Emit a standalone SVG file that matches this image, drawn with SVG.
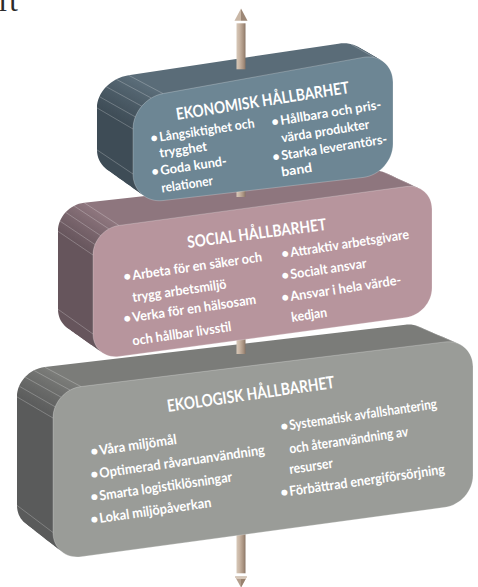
<svg xmlns="http://www.w3.org/2000/svg" xmlns:xlink="http://www.w3.org/1999/xlink" width="478" height="587" viewBox="0 0 478 587">
<style>
text{font-family:Lato,"Open Sans","DejaVu Sans",sans-serif;fill:#fff;font-weight:700}
.ti{font-size:16.5px}
.bl{font-size:13px}
.bb{font-size:13.8px}
.hl{stroke:#fff;stroke-opacity:.4;stroke-width:.6;fill:none}
.rod{fill:url(#rodg)}
.fe{stroke:#fff;stroke-opacity:.3;stroke-width:.8}
</style>
<defs>
<path id="pt" d="M163,93.58 L363,57.42 C379.56,54.43 393,65.44 393,82 L393,144 C393,160.56 379.56,175.55 363,177.46 L163,200.54 C146.44,202.45 133,190.56 133,174 L133,129 C133,112.44 146.44,96.57 163,93.58Z"/>
<path id="pm" d="M119,225.47 L406,186.53 C420.35,184.58 432,194.65 432,209 L432,288 C432,302.35 420.35,315.58 406,317.53 L119,356.47 C104.65,358.42 93,348.35 93,334 L93,255 C93,240.65 104.65,227.42 119,225.47Z"/>
<path id="pb" d="M81,386.57 L445,341.93 C460.46,340.04 473,351.04 473,366.5 L473,475.5 C473,490.96 460.46,505.2 445,507.3 L81,556.7 C65.54,558.8 53,547.96 53,532.5 L53,418 C53,402.54 65.54,388.46 81,386.57Z"/>
<linearGradient id="gt" gradientUnits="userSpaceOnUse" x1="126.2" y1="121.8" x2="157.4" y2="90.6"><stop offset="0" stop-color="#3e4c56"/><stop offset="1" stop-color="#5a6c78"/></linearGradient>
<linearGradient id="gm" gradientUnits="userSpaceOnUse" x1="86.5" y1="249.7" x2="114.7" y2="221.5"><stop offset="0" stop-color="#66555c"/><stop offset="1" stop-color="#8e767e"/></linearGradient>
<linearGradient id="gb" gradientUnits="userSpaceOnUse" x1="46.35" y1="412.05" x2="76.05" y2="382.35"><stop offset="0" stop-color="#5a5b5b"/><stop offset="1" stop-color="#7b7c79"/></linearGradient>
<linearGradient id="rodg" x1="0" y1="0" x2="1" y2="0"><stop offset="0" stop-color="#d8c9b9"/><stop offset=".35" stop-color="#c8b4a2"/><stop offset=".75" stop-color="#a89280"/><stop offset="1" stop-color="#8a7565"/></linearGradient>
</defs>

<text x="-1" y="11" style="font-family:'Liberation Serif',serif;font-weight:400;font-size:31px;fill:#2b2b2b">rt</text>

<g id="axis-bottom" class="connector">
<rect class="rod" x="236.5" y="500" width="9" height="73.3"/>
<polygon points="235,576.5 247,576.5 241,587.5" fill="#b39e8d"/>
<polygon points="235,576.5 247,576.5 245.6,579 236.4,579" fill="#d6c7b8"/>
<polygon points="241,579 245.6,579 241,587.5" fill="#98826f"/>
</g>

<g id="node-ekologisk">
<g fill="url(#gb)">
<use xlink:href="#pb" transform="matrix(0.9905,0,0,0.948,-35.5,0.6)"/>
<use xlink:href="#pb" transform="matrix(0.99145,0,0,0.9532,-31.95,0.54)"/>
<use xlink:href="#pb" transform="matrix(0.9924,0,0,0.9584,-28.4,0.48)"/>
<use xlink:href="#pb" transform="matrix(0.99335,0,0,0.9636,-24.85,0.42)"/>
<use xlink:href="#pb" transform="matrix(0.9943,0,0,0.9688,-21.3,0.36)"/>
<use xlink:href="#pb" transform="matrix(0.99525,0,0,0.974,-17.75,0.3)"/>
<use xlink:href="#pb" transform="matrix(0.9962,0,0,0.9792,-14.2,0.24)"/>
<use xlink:href="#pb" transform="matrix(0.99715,0,0,0.9844,-10.65,0.18)"/>
<use xlink:href="#pb" transform="matrix(0.9981,0,0,0.9896,-7.1,0.12)"/>
<use xlink:href="#pb" transform="matrix(0.99905,0,0,0.9948,-3.55,0.06)"/>
</g>
<path class="hl" d="M17,396.9L53,418M19.2,386.2L55.2,406.8M25.1,377.1L61.2,397.2M33.9,370.4L70.1,390.1M44.7,367.1L81,386.57M17,505.4L53,532.5M416.1,325.6L455.9,342.8"/>
<g class="connector"><rect class="rod" x="236.5" y="300" width="9" height="54"/></g>
<use xlink:href="#pb" fill="#9a9c98" class="fe"/>
<text class="ti" x="168" y="412" textLength="169" lengthAdjust="spacingAndGlyphs" transform="rotate(-8.2 168 412)" style="font-size:17px">EKOLOGISK HÅLLBARHET</text>
<g class="bb">
<text x="91" y="455" transform="rotate(-8.2 100 455)">•</text>
<text x="100" y="455" textLength="78" lengthAdjust="spacingAndGlyphs" transform="rotate(-8.2 100 455)">Våra miljömål</text>
<text x="91" y="478" transform="rotate(-8.2 100 478)">•</text>
<text x="100" y="478" textLength="167" lengthAdjust="spacingAndGlyphs" transform="rotate(-8.2 100 478)">Optimerad råvaruanvändning</text>
<text x="91" y="500.5" transform="rotate(-8.2 100 500.5)">•</text>
<text x="100" y="500.5" textLength="134" lengthAdjust="spacingAndGlyphs" transform="rotate(-8.2 100 500.5)">Smarta logistiklösningar</text>
<text x="91" y="523" transform="rotate(-8.2 100 523)">•</text>
<text x="100" y="523" textLength="113" lengthAdjust="spacingAndGlyphs" transform="rotate(-8.2 100 523)">Lokal miljöpåverkan</text>
<text x="281" y="430" transform="rotate(-8.4 290 430)">•</text>
<text x="290" y="430" textLength="149" lengthAdjust="spacingAndGlyphs" transform="rotate(-8.4 290 430)">Systematisk avfallshantering</text>
<text x="290" y="453.5" textLength="120" lengthAdjust="spacingAndGlyphs" transform="rotate(-8.4 290 453.5)">och återanvändning av</text>
<text x="290" y="474" textLength="44" lengthAdjust="spacingAndGlyphs" transform="rotate(-8.4 290 474)">resurser</text>
<text x="281" y="496" transform="rotate(-8.2 290 496)">•</text>
<text x="290" y="496" textLength="157" lengthAdjust="spacingAndGlyphs" transform="rotate(-8.2 290 496)">Förbättrad energiförsörjning</text>
</g>
</g>

<g id="node-social">
<g fill="url(#gm)">
<use xlink:href="#pm" transform="matrix(1.0059,0.02316,0,0.988,-35.55,-22.8)"/>
<use xlink:href="#pm" transform="matrix(1.00531,0.020844,0,0.9892,-31.995,-20.52)"/>
<use xlink:href="#pm" transform="matrix(1.00472,0.018528,0,0.9904,-28.44,-18.24)"/>
<use xlink:href="#pm" transform="matrix(1.00413,0.016212,0,0.9916,-24.885,-15.96)"/>
<use xlink:href="#pm" transform="matrix(1.00354,0.013896,0,0.9928,-21.33,-13.68)"/>
<use xlink:href="#pm" transform="matrix(1.00295,0.01158,0,0.994,-17.775,-11.4)"/>
<use xlink:href="#pm" transform="matrix(1.00236,0.009264,0,0.9952,-14.22,-9.12)"/>
<use xlink:href="#pm" transform="matrix(1.00177,0.006948,0,0.9964,-10.665,-6.84)"/>
<use xlink:href="#pm" transform="matrix(1.00118,0.004632,0,0.9976,-7.11,-4.56)"/>
<use xlink:href="#pm" transform="matrix(1.00059,0.002316,0,0.9988,-3.555,-2.28)"/>
</g>
<path class="hl" d="M58,231.3L93,255M60.06,221.1L95.05,244.6M65.64,212.3L100.6,235.6M73.99,205.9L108.9,228.9M84.15,202.7L119,225.47M58,309.3L93,334M383,171.8L416.1,187.2"/>
<g class="connector"><rect class="rod" x="236.5" y="150" width="9" height="47"/></g>
<use xlink:href="#pm" fill="#b7959d" class="fe"/>
<text class="ti" x="188" y="248" textLength="140" lengthAdjust="spacingAndGlyphs" transform="rotate(-7.4 188 248)">SOCIAL HÅLLBARHET</text>
<g class="bl" style="font-size:13.4px">
<text x="124" y="280" transform="rotate(-8.2 133 280)">•</text>
<text x="133" y="280" textLength="131" lengthAdjust="spacingAndGlyphs" transform="rotate(-8.2 133 280)">Arbeta för en säker och</text>
<text x="133" y="302" textLength="95" lengthAdjust="spacingAndGlyphs" transform="rotate(-8.2 133 302)">trygg arbetsmiljö</text>
<text x="124" y="322" transform="rotate(-8.4 133 322)">•</text>
<text x="133" y="322" textLength="125" lengthAdjust="spacingAndGlyphs" transform="rotate(-8.4 133 322)">Verka för en hälsosam</text>
<text x="133" y="345.5" textLength="100" lengthAdjust="spacingAndGlyphs" transform="rotate(-8.4 133 345.5)">och hållbar livsstil</text>
<text x="282" y="257" transform="rotate(-8.8 291 257)">•</text>
<text x="291" y="257" textLength="120" lengthAdjust="spacingAndGlyphs" transform="rotate(-8.8 291 257)">Attraktiv arbetsgivare</text>
<text x="282" y="279" transform="rotate(-8.6 291 279)">•</text>
<text x="291" y="279" textLength="77" lengthAdjust="spacingAndGlyphs" transform="rotate(-8.6 291 279)">Socialt ansvar</text>
<text x="282" y="301" transform="rotate(-8.6 291 301)">•</text>
<text x="291" y="301" textLength="112" lengthAdjust="spacingAndGlyphs" transform="rotate(-8.6 291 301)">Ansvar i hela värde-</text>
<text x="292" y="322" textLength="36" lengthAdjust="spacingAndGlyphs" transform="rotate(-8.6 292 322)">kedjan</text>
</g>
</g>

<g id="node-ekonomisk">
<g fill="url(#gt)">
<use xlink:href="#pt" transform="matrix(1.05,0.011,0,0.933,-42.65,-13.9)"/>
<use xlink:href="#pt" transform="matrix(1.045,0.0099,0,0.9397,-38.385,-12.51)"/>
<use xlink:href="#pt" transform="matrix(1.04,0.0088,0,0.9464,-34.12,-11.12)"/>
<use xlink:href="#pt" transform="matrix(1.035,0.0077,0,0.9531,-29.855,-9.73)"/>
<use xlink:href="#pt" transform="matrix(1.03,0.0066,0,0.9598,-25.59,-8.34)"/>
<use xlink:href="#pt" transform="matrix(1.025,0.0055,0,0.9665,-21.325,-6.95)"/>
<use xlink:href="#pt" transform="matrix(1.02,0.0044,0,0.9732,-17.06,-5.56)"/>
<use xlink:href="#pt" transform="matrix(1.015,0.0033,0,0.9799,-12.795,-4.17)"/>
<use xlink:href="#pt" transform="matrix(1.01,0.0022,0,0.9866,-8.53,-2.78)"/>
<use xlink:href="#pt" transform="matrix(1.005,0.0011,0,0.9933,-4.265,-1.39)"/>
</g>
<path class="hl" d="M97,107.9L133,129M99.5,96.7L135.4,116.9M106.2,86.7L141.8,106.2M116.2,79.2L151.3,98.05M128.5,75.2L163,93.58M97,149.9L133,174M350.8,44.1L374.7,57.7"/>
<g class="connector"><rect class="rod" x="236.5" y="23.3" width="9" height="46"/></g>
<use xlink:href="#pt" fill="#6d8694" class="fe"/>
<text class="ti" x="177" y="120" textLength="175" lengthAdjust="spacingAndGlyphs" transform="rotate(-8.9 177 120)">EKONOMISK HÅLLBARHET</text>
<g class="bl">
<text x="151" y="141.5" transform="rotate(-8.4 160 141.5)">•</text>
<text x="160" y="141.5" textLength="96" lengthAdjust="spacingAndGlyphs" transform="rotate(-8.4 160 141.5)">Långsiktighet och</text>
<text x="160" y="157.5" textLength="48" lengthAdjust="spacingAndGlyphs" transform="rotate(-8.4 160 157.5)">trygghet</text>
<text x="152" y="175" transform="rotate(-8.4 161 175)">•</text>
<text x="161" y="175" textLength="67" lengthAdjust="spacingAndGlyphs" transform="rotate(-8.4 161 175)">Goda kund-</text>
<text x="162" y="192.5" textLength="52" lengthAdjust="spacingAndGlyphs" transform="rotate(-8.4 162 192.5)">relationer</text>
<text x="272" y="125" transform="rotate(-9.2 281 125)">•</text>
<text x="281" y="125" textLength="102" lengthAdjust="spacingAndGlyphs" transform="rotate(-9.2 281 125)">Hållbara och pris-</text>
<text x="282" y="142.5" textLength="89" lengthAdjust="spacingAndGlyphs" transform="rotate(-9 282 142.5)">värda produkter</text>
<text x="273" y="160" transform="rotate(-9 282 160)">•</text>
<text x="282" y="160" textLength="107" lengthAdjust="spacingAndGlyphs" transform="rotate(-9 282 160)">Starka leverantörs-</text>
<text x="282" y="176.5" textLength="31" lengthAdjust="spacingAndGlyphs" transform="rotate(-9 282 176.5)">band</text>
</g>
</g>

<g id="axis-top" class="connector">
<polygon points="241,8.5 234.5,20.7 241,20.7" fill="#c9b7a6"/>
<polygon points="241,8.5 247.5,20.7 241,20.7" fill="#9c8776"/>
</g>
</svg>
